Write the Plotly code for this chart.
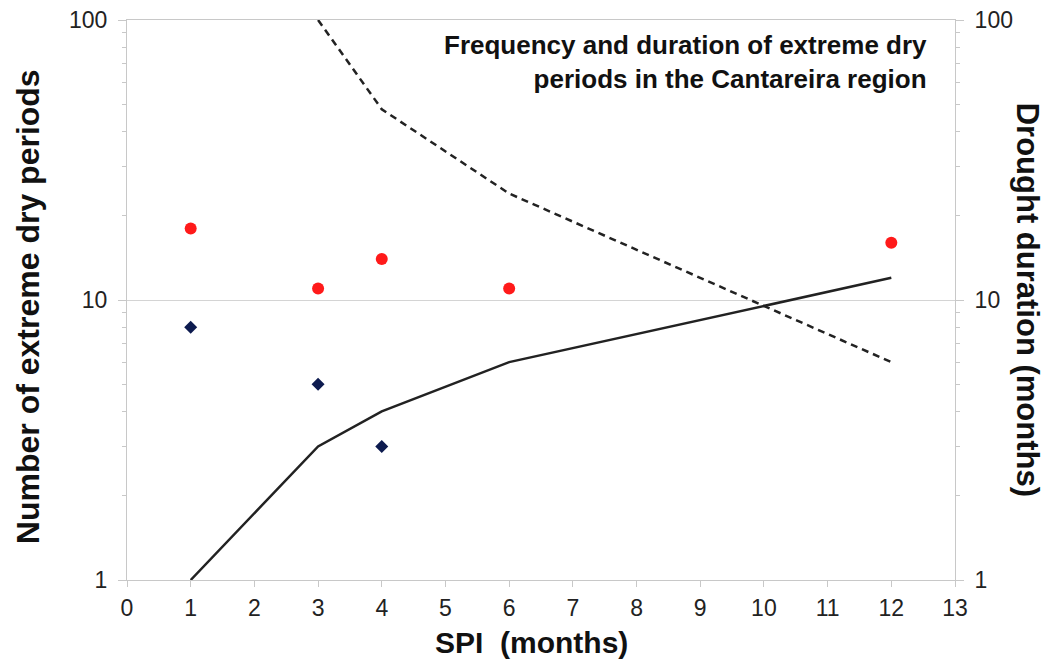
import plotly.graph_objects as go

# Data
spi_months = [1, 3, 4, 6, 12]
red_counts = [18, 11, 14, 11, 16]
blue_x = [1, 3, 4]
blue_counts = [8, 5, 3]
solid_duration = [1, 3, 4, 6, 12]
dashed_x = [3, 4, 6, 12]
dashed_values = [100, 48, 24, 6]

x_ticks = list(range(0, 14))
y_major = [1, 10, 100]
y_minor = [2, 3, 4, 5, 6, 7, 8, 9, 20, 30, 40, 50, 60, 70, 80, 90]

FONT = "Liberation Sans, Arial, sans-serif"
AX = "#c8c8c8"

fig = go.Figure()
fig.add_trace(go.Scatter(x=spi_months, y=red_counts, mode="markers",
                         marker=dict(color="#ff1a1a", size=12, symbol="circle"),
                         showlegend=False))
fig.add_trace(go.Scatter(x=blue_x, y=blue_counts, mode="markers",
                         marker=dict(color="#0d1b4f", size=10, symbol="diamond"),
                         showlegend=False))
fig.add_trace(go.Scatter(x=spi_months, y=solid_duration, mode="lines",
                         line=dict(color="#222222", width=2.5),
                         yaxis="y2", showlegend=False))
fig.add_trace(go.Scatter(x=dashed_x, y=dashed_values, mode="lines",
                         line=dict(color="#222222", width=2.5, dash="7px,5px"),
                         yaxis="y2", showlegend=False))

yaxis_common = dict(
    type="log", range=[0, 2], tickvals=y_major, ticktext=[str(v) for v in y_major],
    ticks="outside", ticklen=8, tickcolor=AX, showline=True, linecolor=AX, linewidth=1,
    tickfont=dict(family=FONT, size=23, color="#222"), ticklabelstandoff=6,
    ticklabeloverflow="allow", automargin=False,
    minor=dict(tickvals=y_minor, ticks="outside", ticklen=4, tickcolor=AX, showgrid=False),
    zeroline=False,
)

fig.update_layout(
    width=1054, height=668,
    margin=dict(l=119, r=107, t=12, b=96),
    paper_bgcolor="white", plot_bgcolor="white",
    xaxis=dict(range=[0, 13], tickvals=x_ticks, ticks="outside", ticklen=6, tickcolor=AX,
               showline=True, linecolor=AX, mirror=True, showgrid=False, zeroline=False,
               ticklabelstandoff=1, ticklabeloverflow="allow", automargin=False,
               tickfont=dict(family=FONT, size=23, color="#222")),
    yaxis=dict(**yaxis_common, showgrid=True, gridcolor="#d4d4d4", gridwidth=1),
    yaxis2=dict(**yaxis_common, overlaying="y", side="right", showgrid=False),
    annotations=[
        dict(text="<b>Frequency and duration of extreme dry<br>periods in the Cantareira region</b>",
             x=0.9686, y=0.985, xref="paper", yref="paper", xanchor="right", yanchor="top",
             align="right", showarrow=False, font=dict(family=FONT, size=26, color="#111")),
        dict(text="<b>Number of extreme dry periods</b>", textangle=-90,
             x=-0.1196, y=0.489, xref="paper", yref="paper", xanchor="center", yanchor="middle",
             showarrow=False, font=dict(family=FONT, size=32, color="#111")),
        dict(text="<b>Drought duration (months)</b>", textangle=90,
             x=1.0885, y=0.5, xref="paper", yref="paper", xanchor="center", yanchor="middle",
             showarrow=False, font=dict(family=FONT, size=31, color="#111")),
        dict(text="<b>SPI  (months)</b>",
             x=0.488, y=-0.112, xref="paper", yref="paper", xanchor="center", yanchor="middle",
             showarrow=False, font=dict(family=FONT, size=30, color="#111")),
    ],
)

fig.write_html("out.html")
